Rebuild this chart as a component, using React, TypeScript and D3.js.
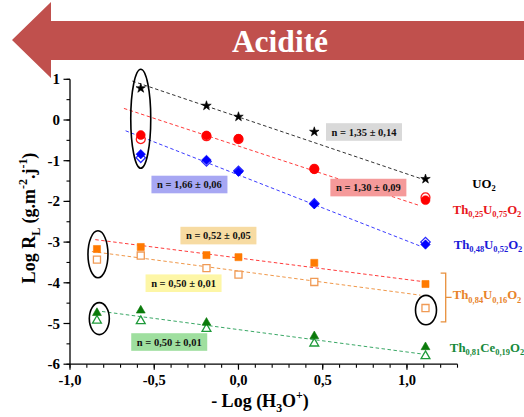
import React from 'react';
import * as d3 from 'd3';

// ---------- data ----------
const xVals = [-0.84, -0.58, -0.19, 0, 0.45, 1.11];

const uo2Filled = [null, 0.78, 0.35, 0.08, -0.29, -1.45];
const th25Filled = [null, -0.37, -0.38, -0.46, -1.21, -1.97];
const th25Open = [null, -0.47, -0.40, -0.47, -1.20, -1.90];
const th48Filled = [null, -0.84, -0.98, -1.27, -2.07, -3.06];
const th48Open = [null, -0.93, -1.02, -1.25, -2.05, -3.0];
const th84Filled = [-3.17, -3.12, -3.32, -3.37, -3.51, -4.03];
const th84Open = [-3.43, -3.33, -3.64, -3.8, -3.98, -4.62];
const ceFilled = [-4.74, -4.68, -4.98, null, -5.31, -5.58];
const ceOpen = [-4.93, -4.94, -5.13, null, -5.49, -5.8];

// fitted lines: y = intercept - slope * x over [x0, x1]
const fitSlopes = [1.4, 1.36, 1.62, 0.53, 0.55, 0.55];
const fitIntercepts = [0.075, -0.64, -1.35, -3.39, -3.71, -5.15];
const fitStarts = [-0.63, -0.68, -0.67, -0.85, -0.87, -0.81];
const fitEnds = [1.1, 1.08, 1.08, 1.08, 1.08, 1.11];
const fitColors = ['#333333', '#ff3b3b', '#3b3bff', '#ff3b3b', '#f0984a', '#3aa866'];

const nLabels = ['n = 1,35 ± 0,14', 'n = 1,30 ± 0,09', 'n = 1,66 ± 0,06', 'n = 0,52 ± 0,05', 'n = 0,50 ± 0,01', 'n = 0,50 ± 0,01'];
const nLabelX = [0.745, 0.771, -0.291, -0.119, -0.326, -0.411];
const nLabelY = [-0.295, -1.66, -1.585, -2.84, -4.01, -5.455];
const nLabelFill = ['#d9d9d9', '#f59a9a', '#a7a7f3', '#f7dba2', '#fdf6a6', '#9fdf9f'];

const xMajor = [-1, -0.5, 0, 0.5, 1];
const yMajor = [1, 0, -1, -2, -3, -4, -5, -6];

const serif = 'Liberation Serif';

const xScale = d3.scaleLinear().domain([-1, 1.3]).range([70, 457.5]);
const yScale = d3.scaleLinear().domain([-6, 1]).range([364.2, 79.3]);

type Part = { t: string; sub?: boolean; sup?: boolean };

function Rich({ parts, size }: { parts: Part[]; size: number }) {
  const out: React.ReactNode[] = [];
  let shift = 0;
  parts.forEach((p, i) => {
    const target = p.sub ? size * 0.3 : p.sup ? -size * 0.45 : 0;
    const dy = target - shift;
    shift = target;
    out.push(
      <tspan key={i} dy={dy} fontFamily={serif} fontSize={p.sub || p.sup ? size * 0.66 : size}>
        {p.t}
      </tspan>
    );
  });
  return <>{out}</>;
}

const sym = (type: d3.SymbolType, size: number) => d3.symbol().type(type).size(size)() as string;

function Markers({ vals, path, color, open, rotate }: { vals: (number | null)[]; path: string; color: string; open?: boolean; rotate?: number }) {
  return (
    <g>
      {vals.map((v, i) =>
        v === null ? null : (
          <path
            key={i}
            d={path}
            transform={`translate(${xScale(xVals[i])},${yScale(v)}) rotate(${rotate || 0})`}
            fill={open ? '#ffffff' : color}
            stroke={color}
            strokeWidth={open ? 1.3 : 0.6}
          />
        )
      )}
    </g>
  );
}

export default function App() {
  const circle = sym(d3.symbolCircle, 62);
  const star = sym(d3.symbolStar, 28);
  const diamond = sym(d3.symbolSquare, 44);
  const square = sym(d3.symbolSquare, 50);
  const tri = sym(d3.symbolTriangle, 34);

  const xMinor = d3.range(-1, 1.301, 0.1);
  const yMinor = d3.range(-6, 1.01, 0.5);

  const legend: { parts: Part[]; y: number; color: string; x: number }[] = [
    { parts: [{ t: 'UO' }, { t: '2', sub: true }], y: -1.66, color: '#000000', x: 484 },
    { parts: [{ t: 'Th' }, { t: '0,25', sub: true }, { t: 'U' }, { t: '0,75', sub: true }, { t: 'O' }, { t: '2', sub: true }], y: -2.3, color: '#e8171c', x: 487 },
    { parts: [{ t: 'Th' }, { t: '0,48', sub: true }, { t: 'U' }, { t: '0,52', sub: true }, { t: 'O' }, { t: '2', sub: true }], y: -3.16, color: '#1a1ad8', x: 488 },
    { parts: [{ t: 'Th' }, { t: '0,84', sub: true }, { t: 'U' }, { t: '0,16', sub: true }, { t: 'O' }, { t: '2', sub: true }], y: -4.39, color: '#e8832a', x: 487 },
    { parts: [{ t: 'Th' }, { t: '0,81', sub: true }, { t: 'Ce' }, { t: '0,19', sub: true }, { t: 'O' }, { t: '2', sub: true }], y: -5.69, color: '#168a3a', x: 487 },
  ];

  const fmt = (v: number) => d3.format('.1f')(v).replace('.', ',').replace('−', '-');

  return (
    <svg width={524} height={417} style={{ position: 'absolute', left: 0, top: 0, background: '#fff' }} fontFamily={serif} fontWeight="bold">
      {/* arrow */}
      <polygon points="12,40 51,2 51,21 524,21 524,60 51,60 51,78" fill="#c0504d" />
      <text x={280} y={52} textAnchor="middle" fill="#fff" fontSize={31.5} fontFamily={serif} fontWeight="bold">
        Acidité
      </text>

      {/* fit lines */}
      {fitSlopes.map((s, i) => (
        <line
          key={i}
          x1={xScale(fitStarts[i])}
          y1={yScale(fitIntercepts[i] - s * fitStarts[i])}
          x2={xScale(fitEnds[i])}
          y2={yScale(fitIntercepts[i] - s * fitEnds[i])}
          stroke={fitColors[i]}
          strokeWidth={1}
          strokeDasharray="3.5,2.5"
        />
      ))}

      {/* n boxes */}
      {nLabels.map((t, i) => (
        <g key={i} transform={`translate(${xScale(nLabelX[i])},${yScale(nLabelY[i])})`}>
          <rect x={-38} y={-8.8} width={76} height={17.6} fill={nLabelFill[i]} />
          <text y={3.6} textAnchor="middle" fontSize={10.5} fill="#111" fontFamily={serif}>
            {t}
          </text>
        </g>
      ))}

      {/* markers: open first then filled */}
      <Markers vals={th25Open} path={circle} color="#ff1a1a" open />
      <Markers vals={th48Open} path={diamond} color="#2a2aff" open rotate={45} />
      <Markers vals={th84Open} path={square} color="#f09a55" open />
      <Markers vals={ceOpen} path={tri} color="#1e9a3a" open />
      <Markers vals={uo2Filled} path={star} color="#000000" />
      <Markers vals={th25Filled} path={circle} color="#ff0000" />
      <Markers vals={th48Filled} path={diamond} color="#0000ff" rotate={45} />
      <Markers vals={th84Filled} path={square} color="#ff7a00" />
      <Markers vals={ceFilled} path={tri} color="#0a7a0a" />

      {/* ellipses */}
      <ellipse cx={xScale(-0.58)} cy={yScale(0.03)} rx={10} ry={49.5} fill="none" stroke="#000" strokeWidth={1.6} />
      <ellipse cx={xScale(-0.834)} cy={yScale(-3.3)} rx={10} ry={23.5} fill="none" stroke="#000" strokeWidth={1.6} />
      <ellipse cx={xScale(-0.826)} cy={yScale(-4.88)} rx={10} ry={16} fill="none" stroke="#000" strokeWidth={1.6} />
      <ellipse cx={xScale(1.113)} cy={yScale(-4.67)} rx={10.5} ry={14.7} fill="none" stroke="#000" strokeWidth={1.6} />

      {/* bracket */}
      <path
        d={`M${xScale(1.2)},${yScale(-3.76)} H${xScale(1.23)} V${yScale(-4.96)} H${xScale(1.2)} M${xScale(1.23)},${yScale(-4.36)} H${xScale(1.265)}`}
        fill="none"
        stroke="#e8903c"
        strokeWidth={1.3}
      />

      {/* legend labels */}
      {legend.map((l, i) => (
        <text key={i} x={l.x} y={yScale(l.y)} textAnchor="middle" fontSize={12.8} fill={l.color} fontFamily={serif}>
          <Rich parts={l.parts} size={12.8} />
        </text>
      ))}

      {/* axes */}
      <line x1={xScale(-1)} x2={xScale(-1)} y1={yScale(1)} y2={yScale(-6)} stroke="#000" strokeWidth={1.3} />
      <line x1={xScale(-1)} x2={xScale(1.3)} y1={yScale(-6)} y2={yScale(-6)} stroke="#000" strokeWidth={1.3} />
      {yMinor.map((v, i) => (
        <line key={'ym' + i} x1={70} x2={70 - 3.5} y1={yScale(v)} y2={yScale(v)} stroke="#000" strokeWidth={1.1} />
      ))}
      {yMajor.map((v) => (
        <g key={'y' + v}>
          <line x1={70} x2={63.5} y1={yScale(v)} y2={yScale(v)} stroke="#000" strokeWidth={1.2} />
          <text x={60} y={yScale(v) + 5} textAnchor="end" fontSize={15} fontFamily={serif}>
            {String(v)}
          </text>
        </g>
      ))}
      {xMinor.map((v, i) => (
        <line key={'xm' + i} x1={xScale(v)} x2={xScale(v)} y1={yScale(-6)} y2={yScale(-6) + 3.5} stroke="#000" strokeWidth={1.1} />
      ))}
      {xMajor.map((v) => (
        <g key={'x' + v}>
          <line x1={xScale(v)} x2={xScale(v)} y1={yScale(-6)} y2={yScale(-6) + 5.5} stroke="#000" strokeWidth={1.2} />
          <text x={xScale(v)} y={385} textAnchor="middle" fontSize={14.5} fontFamily={serif}>
            {fmt(v)}
          </text>
        </g>
      ))}

      {/* axis titles */}
      <text x={260} y={407} textAnchor="middle" fontSize={18} fontFamily={serif}>
        <Rich parts={[{ t: '- Log (H' }, { t: '3', sub: true }, { t: 'O' }, { t: '+', sup: true }, { t: ')' }]} size={18} />
      </text>
      <text transform="translate(35,218) rotate(-90)" textAnchor="middle" fontSize={18} fontFamily={serif}>
        <Rich
          parts={[{ t: 'Log R' }, { t: 'L', sub: true }, { t: ' (g.m' }, { t: '-2', sup: true }, { t: '.j' }, { t: '-1', sup: true }, { t: ')' }]}
          size={18}
        />
      </text>
    </svg>
  );
}
